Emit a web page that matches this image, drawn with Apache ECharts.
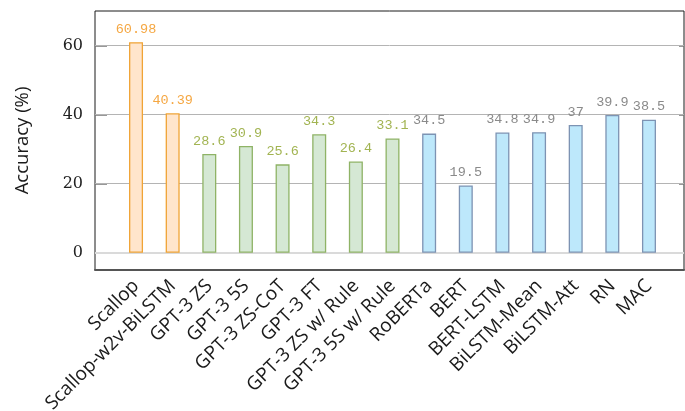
<!DOCTYPE html>
<html><head><meta charset="utf-8">
<script src="https://cdn.jsdelivr.net/npm/echarts@6/dist/echarts.min.js"></script>
<style>html,body{margin:0;padding:0;background:#fff}#c{width:685px;height:411px}</style>
</head><body><div id="c"></div>
<script>
const categories = ["Scallop","Scallop-w2v-BiLSTM","GPT-3 ZS","GPT-3 5S","GPT-3 ZS-CoT","GPT-3 FT","GPT-3 ZS w/ Rule","GPT-3 5S w/ Rule","RoBERTa","BERT","BERT-LSTM","BiLSTM-Mean","BiLSTM-Att","RN","MAC"];
const values = [60.98,40.39,28.6,30.9,25.6,34.3,26.4,33.1,34.5,19.5,34.8,34.9,37,39.9,38.5];
const groups = ["ours","ours","gpt","gpt","gpt","gpt","gpt","gpt","base","base","base","base","base","base","base"];
const yTicks = [0,20,40,60];

const palette = {
  ours: {fill:"#ffe5cc", border:"#f0a436", label:"#f5a742"},
  gpt:  {fill:"#d5e8d4", border:"#8fb366", label:"#a2b452"},
  base: {fill:"#bde8fb", border:"#7d93b3", label:"#8a8a8a"}
};

const chart = echarts.init(document.getElementById('c'), null, {renderer:'canvas'});
const data = values.map((v,i)=>({
  value: v,
  itemStyle: {color: palette[groups[i]].fill, borderColor: palette[groups[i]].border, borderWidth: 1.3},
  label: {color: palette[groups[i]].label}
}));

chart.setOption({
  animation:false,
  grid:[
    {left:95, right:1, top:11, bottom:141, show:true, borderColor:'#1a1a1a', borderWidth:1, backgroundColor:'transparent', outerBoundsMode:'none', containLabel:false},
    {left:117.7, right:17.7, top:11, bottom:141, outerBoundsMode:'none', containLabel:false}
  ],
  xAxis:[
    {gridIndex:0, type:'value', min:0, max:1, show:true,
     axisLine:{show:true, onZero:false, lineStyle:{color:'#555', width:2}},
     axisTick:{show:false}, axisLabel:{show:false}, splitLine:{show:false}},
    {gridIndex:1, type:'category', data:categories,
     axisLine:{show:false}, axisTick:{show:false},
     axisLabel:{interval:0, rotate:45, margin:13, fontFamily:'Open Sans', fontSize:19, color:'#1a1a1a'}}
  ],
  yAxis:[
    {gridIndex:0, type:'value', min:-5, max:70, position:'left',
     axisLine:{show:false},
     axisTick:{show:true, inside:true, length:12, customValues:yTicks, lineStyle:{color:'#777', width:1.5}},
     axisLabel:{show:true, customValues:yTicks, margin:12, fontFamily:'DejaVu Serif', fontSize:16, color:'#222'},
     splitLine:{show:false},
     name:'Accuracy (%)', nameLocation:'middle', nameGap:63, nameRotate:90,
     nameTextStyle:{fontFamily:'Open Sans', fontSize:18.5, color:'#1a1a1a'}},
    {gridIndex:0, type:'value', min:-5, max:70, position:'right',
     axisLine:{show:false},
     axisTick:{show:true, inside:true, length:5, customValues:yTicks, lineStyle:{color:'#777', width:1.5}},
     axisLabel:{show:false}, splitLine:{show:false}},
    {gridIndex:1, type:'value', min:-5, max:70, show:false}
  ],
  series:[
    {type:'line', xAxisIndex:0, yAxisIndex:0, data:[], silent:true,
     markLine:{symbol:'none', silent:true, label:{show:false},
       data:[
         {yAxis:0, lineStyle:{color:'#dadada', width:2, type:'solid'}},
         {yAxis:20, lineStyle:{color:'#b4b4b4', width:1, type:'solid'}},
         {yAxis:40, lineStyle:{color:'#b4b4b4', width:1, type:'solid'}},
         {yAxis:60, lineStyle:{color:'#b4b4b4', width:1, type:'solid'}}
       ]}},
    {type:'bar', xAxisIndex:1, yAxisIndex:2, data:data, barWidth:14, z:5,
     label:{show:true, position:'top', distance:6, fontFamily:'Liberation Mono', fontSize:13.5}}
  ]
});
</script></body></html>
